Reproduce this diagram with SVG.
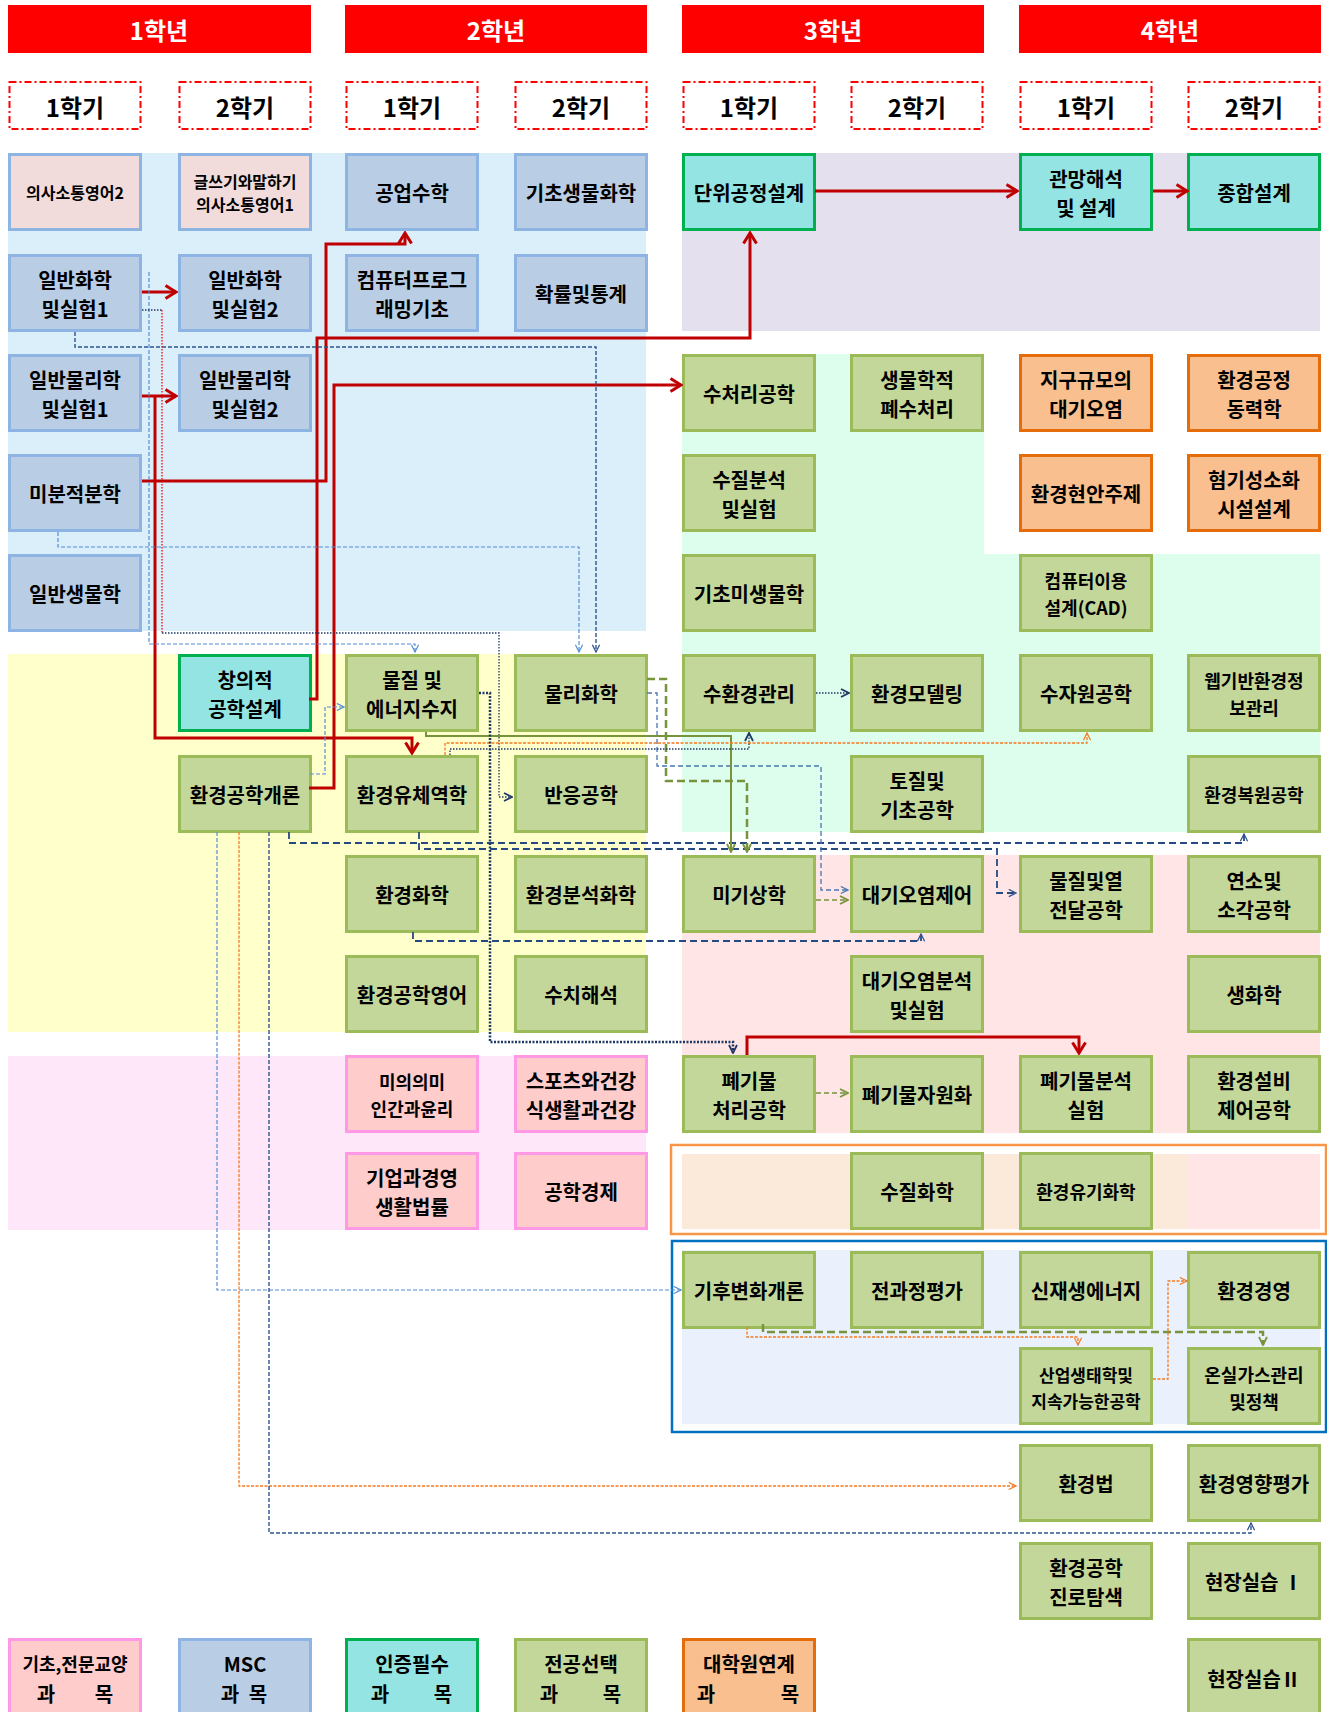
<svg xmlns="http://www.w3.org/2000/svg" width="1327" height="1712" viewBox="0 0 1327 1712">
<style>
.n{stroke-width:3}
.msc{fill:#B9CDE5;stroke:#8EB4E3}
.gy{fill:#F2DCDB;stroke:#8EB4E3}
.pk{fill:#FFCCCC;stroke:#FF99E5}
.cy{fill:#93E4E3;stroke:#00B050}
.gr{fill:#C4D79B;stroke:#9BBB59}
.or{fill:#F9BF8F;stroke:#E46C0A}
text{font-family:"Noto Sans CJK KR","Noto Sans",sans-serif;font-weight:700;text-anchor:middle;dominant-baseline:central;fill:#000;font-size:20px}
.s16{font-size:16px}
.s17{font-size:17px}
.s18{font-size:18px}
.hd{fill:#fff;font-size:24px}
.sm{font-size:24px}
.yr{fill:#FF0000}
.sem{fill:#fff;stroke:#FF0000;stroke-width:2;stroke-dasharray:7 3 2 3}
.c{fill:none}
.red{stroke:#C00000;stroke-width:3;marker-end:url(#aR)}
.lb{stroke:#558ED5;stroke-width:1.2;stroke-dasharray:4 2}
.nv{stroke:#2E5590;stroke-width:1.4;stroke-dasharray:4 2}
.nvl{stroke:#254A82;stroke-width:1.8;stroke-dasharray:7 4}
.mb{stroke:#4A76B0;stroke-width:1.3;stroke-dasharray:5 3}
.orl{stroke:#F47A20;stroke-width:1.3;stroke-dasharray:3 1.5}
.grd{stroke:#77933C;stroke-width:2.5;stroke-dasharray:8 4}
.grt{stroke:#77933C;stroke-width:1.5;stroke-dasharray:5 3}
.grs{stroke:#77933C;stroke-width:2}
.dt{stroke:#1F3864;stroke-width:1.3;stroke-dasharray:1.5 1.5}
.dtk{stroke:#1F3864;stroke-width:2.5;stroke-dasharray:2 1.5}
.rd{stroke:#FF0000;stroke-width:1.3;stroke-dasharray:1.5 1.5}
</style>
<defs>
<marker id="aR" viewBox="0 0 14 16" refX="12" refY="8" markerWidth="14" markerHeight="16" markerUnits="userSpaceOnUse" orient="auto"><path d="M1.5,1.5 L12,8 L1.5,14.5" fill="none" stroke="#C00000" stroke-width="3"/></marker>
<marker id="aLB" viewBox="0 0 10 10" refX="9" refY="5" markerWidth="9" markerHeight="9" markerUnits="userSpaceOnUse" orient="auto"><path d="M1,1 L9,5 L1,9" fill="none" stroke="#558ED5" stroke-width="1.3"/></marker>
<marker id="aNV" viewBox="0 0 10 10" refX="9" refY="5" markerWidth="9" markerHeight="9" markerUnits="userSpaceOnUse" orient="auto"><path d="M1,1 L9,5 L1,9" fill="none" stroke="#2E5590" stroke-width="1.4"/></marker>
<marker id="aMB" viewBox="0 0 10 10" refX="9" refY="5" markerWidth="9" markerHeight="9" markerUnits="userSpaceOnUse" orient="auto"><path d="M1,1 L9,5 L1,9" fill="none" stroke="#4A76B0" stroke-width="1.3"/></marker>
<marker id="aOR" viewBox="0 0 10 10" refX="9" refY="5" markerWidth="9" markerHeight="9" markerUnits="userSpaceOnUse" orient="auto"><path d="M1,1 L9,5 L1,9" fill="none" stroke="#F47A20" stroke-width="1.3"/></marker>
<marker id="aGR" viewBox="0 0 10 10" refX="9" refY="5" markerWidth="10" markerHeight="10" markerUnits="userSpaceOnUse" orient="auto"><path d="M1,1 L9,5 L1,9" fill="none" stroke="#77933C" stroke-width="1.8"/></marker>
<marker id="aDT" viewBox="0 0 10 10" refX="9" refY="5" markerWidth="10" markerHeight="10" markerUnits="userSpaceOnUse" orient="auto"><path d="M1,1 L9,5 L1,9" fill="none" stroke="#1F3864" stroke-width="1.8"/></marker>
</defs>

<g id="backgrounds">
<rect x="8" y="153" width="638" height="478" fill="#DBEFFA"/>
<rect x="682" y="153" width="638" height="178" fill="#E4E0EE"/>
<path d="M682,354 H984 V554 H1320 V832 H682 Z" fill="#DDFEEC"/>
<rect x="8" y="654" width="638" height="378" fill="#FFFFCC"/>
<rect x="8" y="1056" width="638" height="174" fill="#FDE7F8"/>
<rect x="682" y="855" width="638" height="278" fill="#FFE5E5"/>
<rect x="671" y="1145" width="655" height="89" fill="none" stroke="#F79646" stroke-width="2.5"/>
<rect x="682" y="1154" width="505" height="75" fill="#FBE9D9"/>
<rect x="1187" y="1154" width="133" height="75" fill="#FFE5E5"/>
<rect x="672" y="1241" width="654" height="191" fill="none" stroke="#0070C0" stroke-width="2.5"/>
<rect x="682" y="1250" width="638" height="174" fill="#EAF1FD"/>
</g>

<g id="headers">
<rect class="yr" x="8" y="5" width="303" height="48"/><text class="hd" x="159" y="29">1학년</text>
<rect class="yr" x="345" y="5" width="302" height="48"/><text class="hd" x="496" y="29">2학년</text>
<rect class="yr" x="682" y="5" width="302" height="48"/><text class="hd" x="833" y="29">3학년</text>
<rect class="yr" x="1019" y="5" width="302" height="48"/><text class="hd" x="1170" y="29">4학년</text>
<rect class="sem" x="9.5" y="82" width="131" height="47"/><text class="sm" x="75" y="106">1학기</text>
<rect class="sem" x="179.5" y="82" width="131" height="47"/><text class="sm" x="245" y="106">2학기</text>
<rect class="sem" x="346.5" y="82" width="131" height="47"/><text class="sm" x="412" y="106">1학기</text>
<rect class="sem" x="515.5" y="82" width="131" height="47"/><text class="sm" x="581" y="106">2학기</text>
<rect class="sem" x="683.5" y="82" width="131" height="47"/><text class="sm" x="749" y="106">1학기</text>
<rect class="sem" x="851.5" y="82" width="131" height="47"/><text class="sm" x="917" y="106">2학기</text>
<rect class="sem" x="1020.5" y="82" width="131" height="47"/><text class="sm" x="1086" y="106">1학기</text>
<rect class="sem" x="1188.5" y="82" width="131" height="47"/><text class="sm" x="1254" y="106">2학기</text>
</g>

<g id="nodes">
<g id="n-comm2"><rect class="n gy" x="9.5" y="154.5" width="131" height="75"/><text class="s16" x="75" y="192">의사소통영어2</text></g>
<g id="n-write"><rect class="n gy" x="179.5" y="154.5" width="131" height="75"/><text class="s16" x="245" y="181">글쓰기와말하기</text><text class="s16" x="245" y="204">의사소통영어1</text></g>
<g id="n-engmath"><rect class="n msc" x="346.5" y="154.5" width="131" height="75"/><text x="412" y="192">공업수학</text></g>
<g id="n-biochem0"><rect class="n msc" x="515.5" y="154.5" width="131" height="75"/><text x="581" y="192">기초생물화학</text></g>
<g id="n-unitproc"><rect class="n cy" x="683.5" y="154.5" width="131" height="75"/><text x="749" y="192">단위공정설계</text></g>
<g id="n-network"><rect class="n cy" x="1020.5" y="154.5" width="131" height="75"/><text x="1086" y="178">관망해석</text><text x="1086" y="207">및 설계</text></g>
<g id="n-capstone"><rect class="n cy" x="1188.5" y="154.5" width="131" height="75"/><text x="1254" y="192">종합설계</text></g>

<g id="n-chem1"><rect class="n msc" x="9.5" y="255.5" width="131" height="75"/><text x="75" y="279">일반화학</text><text x="75" y="308">및실험1</text></g>
<g id="n-chem2"><rect class="n msc" x="179.5" y="255.5" width="131" height="75"/><text x="245" y="279">일반화학</text><text x="245" y="308">및실험2</text></g>
<g id="n-prog"><rect class="n msc" x="346.5" y="255.5" width="131" height="75"/><text x="412" y="279">컴퓨터프로그</text><text x="412" y="308">래밍기초</text></g>
<g id="n-stat"><rect class="n msc" x="515.5" y="255.5" width="131" height="75"/><text x="581" y="293">확률및통계</text></g>

<g id="n-phys1"><rect class="n msc" x="9.5" y="355.5" width="131" height="75"/><text x="75" y="379">일반물리학</text><text x="75" y="408">및실험1</text></g>
<g id="n-phys2"><rect class="n msc" x="179.5" y="355.5" width="131" height="75"/><text x="245" y="379">일반물리학</text><text x="245" y="408">및실험2</text></g>
<g id="n-water"><rect class="n gr" x="683.5" y="355.5" width="131" height="75"/><text x="749" y="393">수처리공학</text></g>
<g id="n-biowaste"><rect class="n gr" x="851.5" y="355.5" width="131" height="75"/><text x="917" y="379">생물학적</text><text x="917" y="408">폐수처리</text></g>
<g id="n-global"><rect class="n or" x="1020.5" y="355.5" width="131" height="75"/><text x="1086" y="379">지구규모의</text><text x="1086" y="408">대기오염</text></g>
<g id="n-kinetic"><rect class="n or" x="1188.5" y="355.5" width="131" height="75"/><text x="1254" y="379">환경공정</text><text x="1254" y="408">동력학</text></g>

<g id="n-calc"><rect class="n msc" x="9.5" y="455.5" width="131" height="75"/><text x="75" y="493">미분적분학</text></g>
<g id="n-wqlab"><rect class="n gr" x="683.5" y="455.5" width="131" height="75"/><text x="749" y="479">수질분석</text><text x="749" y="508">및실험</text></g>
<g id="n-issue"><rect class="n or" x="1020.5" y="455.5" width="131" height="75"/><text x="1086" y="493">환경현안주제</text></g>
<g id="n-anaer"><rect class="n or" x="1188.5" y="455.5" width="131" height="75"/><text x="1254" y="479">혐기성소화</text><text x="1254" y="508">시설설계</text></g>

<g id="n-bio"><rect class="n msc" x="9.5" y="555.5" width="131" height="75"/><text x="75" y="593">일반생물학</text></g>
<g id="n-micro"><rect class="n gr" x="683.5" y="555.5" width="131" height="75"/><text x="749" y="593">기초미생물학</text></g>
<g id="n-cad"><rect class="n gr" x="1020.5" y="555.5" width="131" height="75"/><text class="s18" x="1086" y="580">컴퓨터이용</text><text class="s18" x="1086" y="607">설계(CAD)</text></g>

<g id="n-creative"><rect class="n cy" x="179.5" y="655.5" width="131" height="75"/><text x="245" y="679">창의적</text><text x="245" y="708">공학설계</text></g>
<g id="n-balance"><rect class="n gr" x="346.5" y="655.5" width="131" height="75"/><text x="412" y="679">물질 및</text><text x="412" y="708">에너지수지</text></g>
<g id="n-physchem"><rect class="n gr" x="515.5" y="655.5" width="131" height="75"/><text x="581" y="693">물리화학</text></g>
<g id="n-wenv"><rect class="n gr" x="683.5" y="655.5" width="131" height="75"/><text x="749" y="693">수환경관리</text></g>
<g id="n-model"><rect class="n gr" x="851.5" y="655.5" width="131" height="75"/><text x="917" y="693">환경모델링</text></g>
<g id="n-hydro"><rect class="n gr" x="1020.5" y="655.5" width="131" height="75"/><text x="1086" y="693">수자원공학</text></g>
<g id="n-web"><rect class="n gr" x="1188.5" y="655.5" width="131" height="75"/><text class="s18" x="1254" y="680">웹기반환경정</text><text class="s18" x="1254" y="707">보관리</text></g>

<g id="n-intro"><rect class="n gr" x="179.5" y="756.5" width="131" height="75"/><text x="245" y="794">환경공학개론</text></g>
<g id="n-fluid"><rect class="n gr" x="346.5" y="756.5" width="131" height="75"/><text x="412" y="794">환경유체역학</text></g>
<g id="n-react"><rect class="n gr" x="515.5" y="756.5" width="131" height="75"/><text x="581" y="794">반응공학</text></g>
<g id="n-soil"><rect class="n gr" x="851.5" y="756.5" width="131" height="75"/><text x="917" y="780">토질및</text><text x="917" y="809">기초공학</text></g>
<g id="n-restore"><rect class="n gr" x="1188.5" y="756.5" width="131" height="75"/><text class="s18" x="1254" y="794">환경복원공학</text></g>

<g id="n-envchem"><rect class="n gr" x="346.5" y="856.5" width="131" height="75"/><text x="412" y="894">환경화학</text></g>
<g id="n-anchem"><rect class="n gr" x="515.5" y="856.5" width="131" height="75"/><text x="581" y="894">환경분석화학</text></g>
<g id="n-micromet"><rect class="n gr" x="683.5" y="856.5" width="131" height="75"/><text x="749" y="894">미기상학</text></g>
<g id="n-airctl"><rect class="n gr" x="851.5" y="856.5" width="131" height="75"/><text x="917" y="894">대기오염제어</text></g>
<g id="n-transfer"><rect class="n gr" x="1020.5" y="856.5" width="131" height="75"/><text x="1086" y="880">물질및열</text><text x="1086" y="909">전달공학</text></g>
<g id="n-combust"><rect class="n gr" x="1188.5" y="856.5" width="131" height="75"/><text x="1254" y="880">연소및</text><text x="1254" y="909">소각공학</text></g>

<g id="n-enggeng"><rect class="n gr" x="346.5" y="956.5" width="131" height="75"/><text x="412" y="994">환경공학영어</text></g>
<g id="n-numer"><rect class="n gr" x="515.5" y="956.5" width="131" height="75"/><text x="581" y="994">수치해석</text></g>
<g id="n-airlab"><rect class="n gr" x="851.5" y="956.5" width="131" height="75"/><text x="917" y="980">대기오염분석</text><text x="917" y="1009">및실험</text></g>
<g id="n-biochem"><rect class="n gr" x="1188.5" y="956.5" width="131" height="75"/><text x="1254" y="994">생화학</text></g>

<g id="n-ethics"><rect class="n pk" x="346.5" y="1056.5" width="131" height="75"/><text class="s18" x="412" y="1081">미의의미</text><text class="s18" x="412" y="1108">인간과윤리</text></g>
<g id="n-sports"><rect class="n pk" x="515.5" y="1056.5" width="131" height="75"/><text x="581" y="1080">스포츠와건강</text><text x="581" y="1109">식생활과건강</text></g>
<g id="n-waste"><rect class="n gr" x="683.5" y="1056.5" width="131" height="75"/><text x="749" y="1080">폐기물</text><text x="749" y="1109">처리공학</text></g>
<g id="n-recycle"><rect class="n gr" x="851.5" y="1056.5" width="131" height="75"/><text x="917" y="1094">폐기물자원화</text></g>
<g id="n-wastelab"><rect class="n gr" x="1020.5" y="1056.5" width="131" height="75"/><text x="1086" y="1080">폐기물분석</text><text x="1086" y="1109">실험</text></g>
<g id="n-facility"><rect class="n gr" x="1188.5" y="1056.5" width="131" height="75"/><text x="1254" y="1080">환경설비</text><text x="1254" y="1109">제어공학</text></g>

<g id="n-business"><rect class="n pk" x="346.5" y="1153.5" width="131" height="75"/><text x="412" y="1177">기업과경영</text><text x="412" y="1206">생활법률</text></g>
<g id="n-econ"><rect class="n pk" x="515.5" y="1153.5" width="131" height="75"/><text x="581" y="1191">공학경제</text></g>
<g id="n-wqchem"><rect class="n gr" x="851.5" y="1153.5" width="131" height="75"/><text x="917" y="1191">수질화학</text></g>
<g id="n-orgchem"><rect class="n gr" x="1020.5" y="1153.5" width="131" height="75"/><text class="s18" x="1086" y="1191">환경유기화학</text></g>

<g id="n-climate"><rect class="n gr" x="683.5" y="1252.5" width="131" height="75"/><text x="749" y="1290">기후변화개론</text></g>
<g id="n-lca"><rect class="n gr" x="851.5" y="1252.5" width="131" height="75"/><text x="917" y="1290">전과정평가</text></g>
<g id="n-renew"><rect class="n gr" x="1020.5" y="1252.5" width="131" height="75"/><text x="1086" y="1290">신재생에너지</text></g>
<g id="n-mgmt"><rect class="n gr" x="1188.5" y="1252.5" width="131" height="75"/><text x="1254" y="1290">환경경영</text></g>

<g id="n-ecology"><rect class="n gr" x="1020.5" y="1348.5" width="131" height="75"/><text class="s17" x="1086" y="1374">산업생태학및</text><text class="s17" x="1086" y="1400">지속가능한공학</text></g>
<g id="n-ghg"><rect class="n gr" x="1188.5" y="1348.5" width="131" height="75"/><text class="s18" x="1254" y="1374">온실가스관리</text><text class="s18" x="1254" y="1401">및정책</text></g>

<g id="n-law"><rect class="n gr" x="1020.5" y="1445.5" width="131" height="75"/><text x="1086" y="1483">환경법</text></g>
<g id="n-eia"><rect class="n gr" x="1188.5" y="1445.5" width="131" height="75"/><text x="1254" y="1483">환경영향평가</text></g>

<g id="n-career"><rect class="n gr" x="1020.5" y="1543.5" width="131" height="75"/><text x="1086" y="1567">환경공학</text><text x="1086" y="1596">진로탐색</text></g>
<g id="n-field1"><rect class="n gr" x="1188.5" y="1543.5" width="131" height="75"/><text x="1254" y="1581">현장실습 Ⅰ</text></g>

<g id="n-field2"><rect class="n gr" x="1188.5" y="1639.5" width="131" height="75"/><text x="1254" y="1678">현장실습Ⅱ</text></g>
</g>

<g id="legend">
<g id="lg-gyo"><rect class="n pk" x="9.5" y="1639.5" width="131" height="75"/><text class="s18" x="75" y="1663">기초,전문교양</text><text><tspan x="46" y="1693">과</tspan><tspan x="104" y="1693">목</tspan></text></g>
<g id="lg-msc"><rect class="n msc" x="179.5" y="1639.5" width="131" height="75"/><text x="245" y="1663">MSC</text><text><tspan x="230" y="1693">과</tspan><tspan x="258" y="1693">목</tspan></text></g>
<g id="lg-req"><rect class="n cy" x="346.5" y="1639.5" width="131" height="75"/><text x="412" y="1663">인증필수</text><text><tspan x="380" y="1693">과</tspan><tspan x="443" y="1693">목</tspan></text></g>
<g id="lg-elec"><rect class="n gr" x="515.5" y="1639.5" width="131" height="75"/><text x="581" y="1663">전공선택</text><text><tspan x="549" y="1693">과</tspan><tspan x="612" y="1693">목</tspan></text></g>
<g id="lg-grad"><rect class="n or" x="683.5" y="1639.5" width="131" height="75"/><text x="749" y="1663">대학원연계</text><text><tspan x="706" y="1693">과</tspan><tspan x="790" y="1693">목</tspan></text></g>
</g>

<g id="connectors" class="c">
<path class="c red" d="M815,191 H1017"/>
<path class="c red" d="M1153,191 H1187"/>
<path class="c red" d="M142,292 H176"/>
<path class="c red" d="M142,396 H176"/>
<path class="c red" d="M142,481 H326 V244 H405 V233"/>
<path class="c red" d="M309,699 H317 V338 H750 V233"/>
<path class="c red" d="M309,788 H334 V385 H681"/>
<path class="c red" d="M155,396 V738 H412 V753"/>
<path class="c red" d="M747,1055 V1037 H1079 V1053"/>

<path class="c lb" marker-end="url(#aLB)" d="M149,272 V644 H415 V652"/>
<path class="c nv" marker-end="url(#aNV)" d="M75,332 V347 H596 V652"/>
<path class="c lb" marker-end="url(#aLB)" d="M58,532 V547 H579 V652"/>
<path class="c lb" marker-end="url(#aLB)" d="M310,774 H325 V707 H344"/>
<path class="c dt" d="M142,310 H162"/>
<path class="c rd" d="M162,310 V633"/>
<path class="c dt" marker-end="url(#aDT)" d="M162,633 H499 V797 H512"/>
<path class="c lb" marker-end="url(#aLB)" d="M217,832 V1290 H681"/>
<path class="c orl" marker-end="url(#aOR)" d="M239,832 V1486 H1016"/>
<path class="c nv" marker-end="url(#aNV)" d="M269,832 V1533 H1251 V1523"/>
<path class="c nvl" marker-end="url(#aNV)" d="M289,832 V843 H1244 V834"/>
<path class="c nvl" marker-end="url(#aNV)" d="M419,832 V849 H997 V893 H1016"/>
<path class="c mb" marker-end="url(#aMB)" d="M647,693 H657 V766 H821 V890 H848"/>
<path class="c grd" marker-end="url(#aGR)" d="M647,679 H666 V781 H747 V852"/>
<path class="c grs" marker-end="url(#aGR)" d="M426,732 V736 H731 V852"/>
<path class="c orl" marker-end="url(#aOR)" d="M445,755 V743 H1087 V733"/>
<path class="c dt" marker-end="url(#aDT)" d="M450,755 V749 H749 V733"/>
<path class="c dt" marker-end="url(#aDT)" d="M816,693 H849"/>
<path class="c dtk" marker-end="url(#aDT)" d="M479,693 H490 V1042 H733 V1053"/>
<path class="c nvl" marker-end="url(#aNV)" d="M413,932 V941 H921 V934"/>
<path class="c grt" marker-end="url(#aGR)" d="M816,900 H848"/>
<path class="c grt" marker-end="url(#aGR)" d="M816,1093 H848"/>
<path class="c orl" marker-end="url(#aOR)" d="M747,1327 V1337 H1078 V1345"/>
<path class="c grd" marker-end="url(#aGR)" d="M763,1324 V1332 H1263 V1345"/>
<path class="c orl" marker-end="url(#aOR)" d="M1153,1379 H1168 V1281 H1187"/>
</g>
</svg>
